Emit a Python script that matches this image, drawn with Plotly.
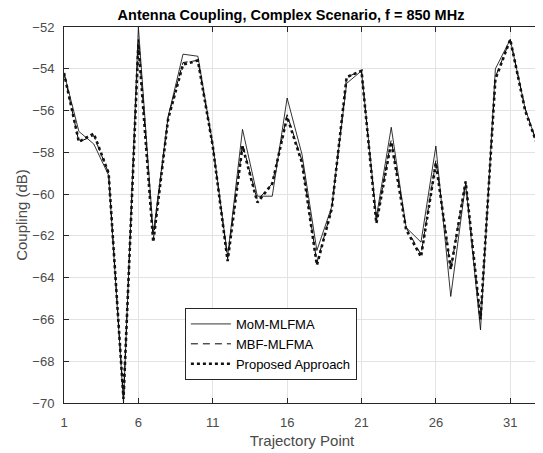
import plotly.graph_objects as go

points = list(range(1, 34))

mom_mlfma = [-54.2, -57.0, -57.6, -59.1, -70.0, -52.0, -61.9, -56.3, -53.3, -53.4,
             -57.6, -63.0, -56.9, -60.1, -60.1, -55.4, -58.1, -62.7, -60.6, -54.7,
             -54.1, -61.1, -56.8, -61.6, -62.3, -57.7, -64.9, -59.5, -66.5, -54.0,
             -52.6, -55.9, -58.0]

mbf_mlfma = [-54.2, -57.5, -57.2, -59.0, -69.8, -52.6, -62.2, -56.3, -53.7, -53.6,
             -57.7, -63.1, -57.6, -60.3, -59.5, -56.2, -58.4, -63.3, -60.7, -54.4,
             -54.1, -61.3, -57.4, -61.6, -62.9, -58.4, -63.6, -59.4, -66.0, -54.4,
             -52.6, -55.9, -58.0]

proposed = [-54.2, -57.5, -57.1, -59.0, -69.8, -52.8, -62.3, -56.4, -53.8, -53.6,
            -57.7, -63.2, -57.7, -60.4, -59.5, -56.3, -58.5, -63.4, -60.7, -54.4,
            -54.1, -61.4, -57.5, -61.7, -63.0, -58.5, -63.6, -59.4, -66.0, -54.5,
            -52.6, -56.0, -58.0]

x_ticks = [1, 6, 11, 16, 21, 26, 31]
y_ticks = list(range(-70, -51, 2))

font_family = "Liberation Sans, Arial"

fig = go.Figure()
fig.add_trace(go.Scatter(x=points, y=mom_mlfma, mode="lines", name="MoM-MLFMA",
                         line=dict(color="black", width=0.8, dash="solid")))
fig.add_trace(go.Scatter(x=points, y=mbf_mlfma, mode="lines", name="MBF-MLFMA",
                         line=dict(color="black", width=1, dash="7px,5px")))
fig.add_trace(go.Scatter(x=points, y=proposed, mode="lines", name="Proposed Approach",
                         line=dict(color="#111111", width=2.6, dash="dot")))

axis_common = dict(showline=True, linecolor="#262626", linewidth=1, mirror="ticks",
                   ticks="inside", ticklen=5, tickcolor="#262626", automargin=False,
                   showgrid=True, gridcolor="#e3e3e3", gridwidth=1, zeroline=False,
                   tickfont=dict(family=font_family, size=13, color="#4a4a4a"))

fig.update_xaxes(range=[1, 33], tickvals=x_ticks, ticklabelstandoff=7,
                 title=dict(text="Trajectory Point", standoff=6,
                            font=dict(family=font_family, size=15, color="#4a4a4a")),
                 **axis_common)
fig.update_yaxes(range=[-70, -52], tickvals=y_ticks, ticklabelstandoff=6,
                 title=dict(text="Coupling (dB)", standoff=1,
                            font=dict(family=font_family, size=15, color="#4a4a4a")),
                 **axis_common)

# the page body adds an 8px margin, so the figure is a bit smaller than the window
fig.update_layout(
    width=535, height=445,
    margin=dict(l=56, r=3, t=19, b=50),
    paper_bgcolor="white", plot_bgcolor="white",
    title=dict(text="<b>Antenna Coupling, Complex Scenario, f = 850 MHz</b>",
               x=0.529, xanchor="center", y=0.995, yanchor="top",
               font=dict(family=font_family, size=14.5, color="black")),
    legend=dict(x=0.254, y=0.157, xanchor="left", yanchor="middle",
                bgcolor="white", bordercolor="#262626", borderwidth=1,
                font=dict(family=font_family, size=13, color="black"),
                tracegroupgap=0, itemwidth=40),
    showlegend=True,
)

fig.write_html("out.html")
